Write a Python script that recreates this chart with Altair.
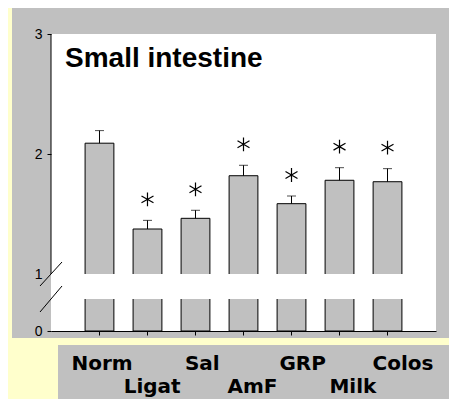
import altair as alt
import pandas as pd

# ---- data ----
groups = ["Norm", "Ligat", "Sal", "AmF", "GRP", "Milk", "Colos"]
means = [2.09, 1.375, 1.464, 1.819, 1.586, 1.781, 1.769]
upper = [2.195, 1.447, 1.531, 1.906, 1.650, 1.886, 1.878]
significant = [False, True, True, True, True, True, True]
top_row = ["Norm", "Sal", "GRP", "Colos"]
bottom_row = ["Ligat", "AmF", "Milk"]
y_ticks = [0, 1, 2, 3]
title_text = "Small intestine"

df = pd.DataFrame({"group": groups, "mean": means, "upper": upper, "sig": significant})
one = pd.DataFrame({"k": [0]})

W, H = 385, 297
GRAY = "#C0C0C0"
ASTERISK = "M0,-1L0,1M-0.87,-0.5L0.87,0.5M-0.87,0.5L0.87,-0.5"

x_axis = alt.Axis(title=None, labels=False, ticks=True, tickSize=4, tickColor="black",
                  tickWidth=1, domainColor="black", domainWidth=1, grid=False, zindex=1)
x_enc = alt.X("group:N", sort=groups,
              scale=alt.Scale(type="band", paddingInner=0.4, paddingOuter=0.71),
              axis=x_axis)
y_scale = alt.Scale(domain=[0, 1, 3], range=[H, 240, 0], nice=False, zero=False)
y_axis = alt.Axis(title=None, values=y_ticks, tickSize=4, tickColor="black", tickWidth=1,
                  labelFontSize=14, labelFont="Liberation Sans", labelColor="black",
                  labelPadding=5, labelFlush=False, domain=False, grid=False, zindex=1,
                  tickOpacity={"condition": {"test": "datum.value === 1", "value": 0}, "value": 1})

panel = alt.Chart(one).mark_rect(fill=GRAY).encode(
    x=alt.value(-39), x2=alt.value(420), y=alt.value(-30), y2=alt.value(304))
plotbg = alt.Chart(one).mark_rect(fill="white").encode(
    x=alt.value(0), x2=alt.value(W), y=alt.value(0), y2=alt.value(H))
labelbox = alt.Chart(one).mark_rect(fill=GRAY).encode(
    x=alt.value(7), x2=alt.value(420), y=alt.value(311), y2=alt.value(390))

bars = alt.Chart(df).mark_bar(fill=GRAY, stroke="black", strokeWidth=1).encode(
    x=x_enc, y=alt.Y("mean:Q", scale=y_scale, axis=y_axis), y2=alt.datum(0))

gap = alt.Chart(one).mark_rect(fill="white").encode(
    x=alt.value(1), x2=alt.value(W), y=alt.value(240), y2=alt.value(265))

stems = alt.Chart(df).mark_rule(color="black", strokeWidth=1).encode(
    x=x_enc, y=alt.Y("mean:Q", scale=y_scale, axis=y_axis), y2="upper:Q")
caps = alt.Chart(df).mark_tick(color="black", thickness=1, size=9).encode(
    x=x_enc, y=alt.Y("upper:Q", scale=y_scale, axis=y_axis))
stars = alt.Chart(df).transform_filter("datum.sig").mark_point(
    shape=ASTERISK, size=190, filled=False, stroke="black", strokeWidth=1.2,
    opacity=1, yOffset=-21).encode(
    x=x_enc, y=alt.Y("upper:Q", scale=y_scale, axis=y_axis))

ydomain = alt.Chart(one).mark_rule(color="black", strokeWidth=1).encode(
    x=alt.value(0), y=alt.value(0), y2=alt.value(240))
slash1 = alt.Chart(one).mark_rule(color="black", strokeWidth=1).encode(
    x=alt.value(-11), y=alt.value(252), x2=alt.value(11), y2=alt.value(228))
slash2 = alt.Chart(one).mark_rule(color="black", strokeWidth=1).encode(
    x=alt.value(-11), y=alt.value(278), x2=alt.value(11), y2=alt.value(252))

title = alt.Chart(one).mark_text(
    text=title_text, font="Liberation Sans", fontSize=28, fontWeight="bold",
    align="left", baseline="alphabetic", color="black").encode(
    x=alt.value(14), y=alt.value(33))

main = alt.layer(panel, plotbg, labelbox, bars, gap, stems, caps, stars,
                 ydomain, slash1, slash2, title)

lab_x = alt.X("group:N", sort=groups,
              scale=alt.Scale(type="point", domain=groups, range=[51, 352], padding=0),
              axis=None)
labels_top = alt.Chart(df).transform_filter(
    alt.FieldOneOfPredicate(field="group", oneOf=top_row)).mark_text(
    font="DejaVu Sans", fontWeight="bold", fontSize=20, baseline="alphabetic",
    color="black").encode(x=lab_x, y=alt.value(336), text="group:N")
labels_bot = alt.Chart(df).transform_filter(
    alt.FieldOneOfPredicate(field="group", oneOf=bottom_row)).mark_text(
    font="DejaVu Sans", fontWeight="bold", fontSize=20, baseline="alphabetic",
    color="black").encode(x=lab_x, y=alt.value(359), text="group:N")

chart = alt.layer(main, labels_top, labels_bot).resolve_scale(x="independent").properties(
    width=W, height=H,
    autosize=alt.AutoSizeParams(type="none"),
    padding={"left": 43, "top": 26, "right": 13, "bottom": 68},
    background="#FFFFCC",
).configure_view(strokeWidth=0)

chart.save("out.html", embed_options={"renderer": "svg", "actions": False})
